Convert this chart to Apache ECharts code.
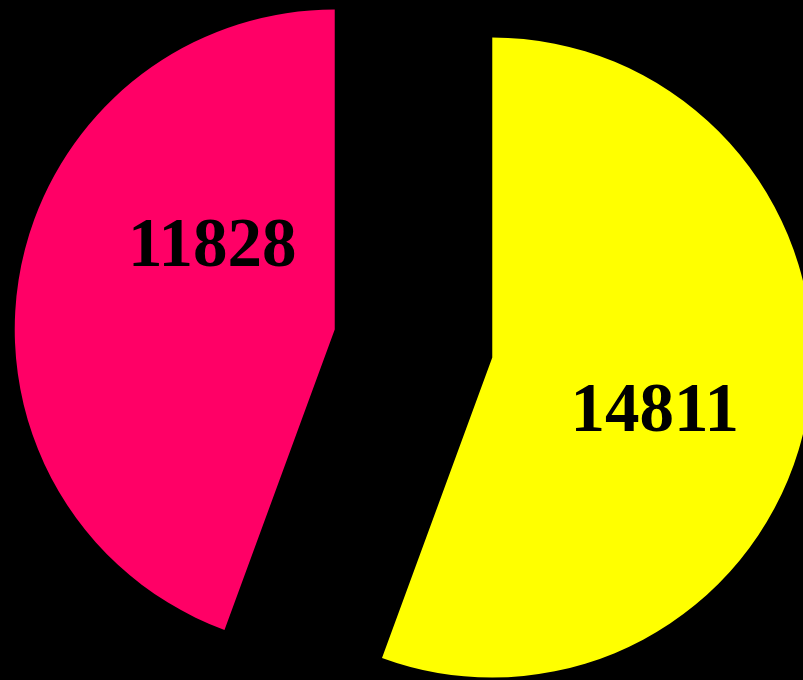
<!DOCTYPE html>
<html>
<head>
<meta charset="utf-8">
<script src="https://cdn.jsdelivr.net/npm/echarts@6/dist/echarts.min.js"></script>
<style>
  html, body { margin: 0; padding: 0; background: #000; }
  #chart { width: 803px; height: 680px; }
</style>
</head>
<body>
<div id="chart"></div>
<script>
// 数据
const names = ['A', 'B'];
const values = [14811, 11828];
const colors = ['#FFFF00', '#FF0066'];

const chart = echarts.init(document.getElementById('chart'));

// 标签微调（相对默认 inside 位置）
const labelShift = [
    { dx: 2, dy: 27 },
    { dx: 38, dy: -53 }
];

chart.setOption({
    backgroundColor: '#000',
    animation: false,
    series: [{
        type: 'pie',
        center: [413.5, 343.5],
        radius: [0, 320],
        startAngle: 90,
        clockwise: true,
        selectedMode: 'multiple',
        selectedOffset: 80,
        emphasis: { scale: false },
        itemStyle: { borderWidth: 0 },
        label: {
            show: true,
            position: 'inside',
            formatter: '{c}',
            color: '#000',
            fontFamily: 'Liberation Serif, DejaVu Serif, serif',
            fontWeight: 'bold',
            fontSize: 69
        },
        labelLine: { show: false },
        labelLayout: function (params) {
            return labelShift[params.dataIndex];
        },
        data: names.map((n, i) => ({
            name: n,
            value: values[i],
            selected: true,
            itemStyle: { color: colors[i] }
        }))
    }]
});
</script>
</body>
</html>
